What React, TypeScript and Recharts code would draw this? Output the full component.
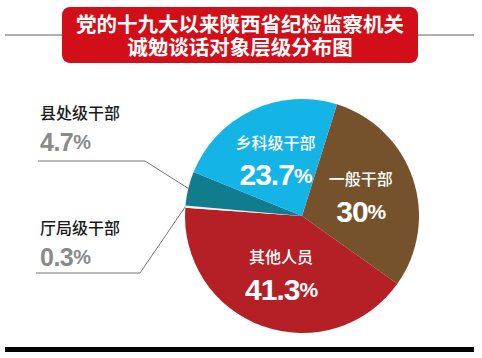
import React from "react";
import { PieChart, Pie, Cell } from "recharts";

const names = ["一般干部", "其他人员", "厅局级干部", "县处级干部", "乡科级干部"];
const values = [30, 41.3, 0.3, 4.7, 23.7];
const labels = ["30", "41.3", "0.3", "4.7", "23.7"];
const colors = ["#75522b", "#b42025", "#f2f2f2", "#127c8f", "#14b4e6"];

const titleLines = ["党的十九大以来陕西省纪检监察机关", "诚勉谈话对象层级分布图"];

const data = names.map((name, i) => ({ name, value: values[i], text: labels[i] }));

const RAD = Math.PI / 180;
const cjk = "'Noto Sans CJK SC', 'Noto Sans', sans-serif";
const num = "'Liberation Sans', Arial, sans-serif";

// left side callouts for the small slices: elbow and text positions
const callouts: Record<number, { elbowX: number; lineY: number; endX: number; nameY: number; pctY: number }> = {
  3: { elbowX: 145, lineY: 161, endX: 38, nameY: 112, pctY: 142 },
  2: { elbowX: 140, lineY: 273, endX: 36, nameY: 227, pctY: 257 },
};

function renderLabel(props: any) {
  const { cx, cy, midAngle, outerRadius, index } = props;
  const d = data[index];
  const cos = Math.cos(-midAngle * RAD);
  const sin = Math.sin(-midAngle * RAD);

  if (d.value > 10) {
    const r = outerRadius * 0.53;
    const x = cx + r * cos;
    const y = cy + r * sin;
    return (
      <g key={`l-${index}`}>
        <text x={x} y={y - 18} textAnchor="middle" dominantBaseline="central" fill="#fff" fontSize={16} fontWeight={500} fontFamily={cjk}>
          {d.name}
        </text>
        <text x={x} y={y + 15} textAnchor="middle" dominantBaseline="central" fill="#fff" fontSize={30} fontWeight="bold" fontFamily={num} letterSpacing={-1}>
          {d.text}
          <tspan fontSize={21}>%</tspan>
        </text>
      </g>
    );
  }

  const c = callouts[index];
  if (!c) return null;
  const ex = cx + outerRadius * cos;
  const ey = cy + outerRadius * sin;
  return (
    <g key={`l-${index}`}>
      <polyline
        points={`${ex},${ey} ${c.elbowX},${c.lineY} ${c.endX},${c.lineY}`}
        fill="none"
        stroke="#777"
        strokeWidth={1}
      />
      <text x={40} y={c.nameY} dominantBaseline="central" fill="#1a1a1a" fontSize={16} fontWeight={500} fontFamily={cjk}>
        {d.name}
      </text>
      <text x={40} y={c.pctY} dominantBaseline="central" fill="#8a8a8a" fontSize={25} fontWeight="bold" fontFamily={num} letterSpacing={-0.5}>
        {d.text}
        <tspan fontSize={20}>%</tspan>
      </text>
    </g>
  );
}

export default function App() {
  return (
    <div style={{ position: "absolute", left: 0, top: 0, width: 482, height: 358, background: "#fff", overflow: "hidden" }}>
      <div style={{ position: "absolute", left: 5, top: 34, width: 469, height: 2, background: "#b0b0b0" }} />
      <div
        style={{
          position: "absolute",
          left: 62,
          top: 7,
          width: 356,
          height: 56,
          background: "#d20f19",
          borderRadius: 8,
          color: "#fff",
          fontFamily: cjk,
          fontWeight: "bold",
          fontSize: 20.5,
          lineHeight: "23px",
          textAlign: "center",
          paddingTop: 5,
          boxSizing: "border-box",
        }}
      >
        {titleLines.map((t) => (
          <div key={t}>{t}</div>
        ))}
      </div>
      <div style={{ position: "absolute", left: 5, top: 347, width: 469, height: 5, background: "#000" }} />
      <div style={{ position: "absolute", left: 0, top: 0 }}>
        <PieChart width={482} height={358}>
          <Pie
            data={data}
            dataKey="value"
            nameKey="name"
            cx={297}
            cy={211}
            outerRadius={117}
            startAngle={72.6}
            endAngle={-287.4}
            stroke="none"
            label={renderLabel}
            labelLine={false}
            isAnimationActive={false}
          >
            {data.map((d, i) => (
              <Cell key={d.name} fill={colors[i]} stroke="none" />
            ))}
          </Pie>
        </PieChart>
      </div>
    </div>
  );
}
